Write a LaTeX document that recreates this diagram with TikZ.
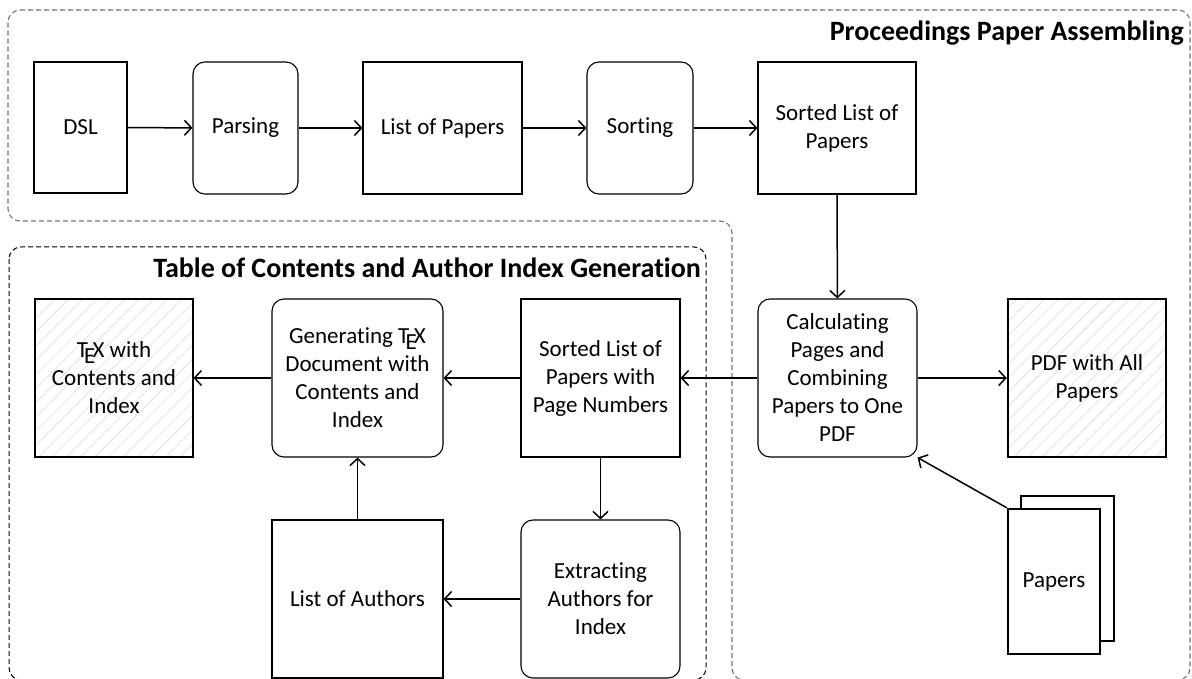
\documentclass[tikz,border=0pt]{standalone}
\usepackage{fontspec}
\setmainfont{Carlito}[Ligatures=NoCommon]
\usetikzlibrary{arrows.meta,patterns.meta}

\tikzset{
  base/.style={draw=black, line width=1.1pt, inner sep=0pt, align=center,
    font=\fontsize{23}{28}\selectfont},
  databox/.style={base},
  procbox/.style={base, rounded corners=12pt},
  inbox/.style={base, line width=2.4pt},
  outbox/.style={base, line width=2.4pt,
    pattern={Lines[angle=45,distance=10pt,line width=0.9pt]}, pattern color=black!11},
  flow/.style={draw=black, line width=1.5pt, -{Straight Barb[length=7pt,width=15pt,line width=1.5pt]}},
  region/.style={dashed, rounded corners=12pt},
  regiontitle/.style={anchor=east, inner sep=0pt, font=\fontsize{28}{32}\selectfont\bfseries},
}

\begin{document}
\begin{tikzpicture}[x=1pt,y=-1pt]
\useasboundingbox (0,0) rectangle (1192,679);
\clip (0,0) rectangle (1192,679);

% group outlines
\draw[region, draw=black!55, line width=1.1pt, dash pattern=on 5pt off 3pt]
  (8,10) -- (1190,10) -- (1190,680) -- (732,680) -- (732,221) -- (8,221) -- cycle;
\draw[region, draw=black, line width=1pt, dash pattern=on 5pt off 3pt]
  (9,247) rectangle (706,680);
\node[regiontitle] (tProc) at (1184,33) {Proceedings Paper Assembling};
\node[regiontitle] (tToc) at (701,268) {Table of Contents and Author Index Generation};

% first row
\node[inbox, minimum width=93pt, minimum height=131pt] (dsl) at (80.5,127.5) {DSL};
\node[procbox, minimum width=105pt, minimum height=132pt] (parse) at (245.5,128) {Parsing};
\node[databox, minimum width=159pt, minimum height=132pt] (list) at (442.5,128) {List of Papers};
\node[procbox, minimum width=106pt, minimum height=132pt] (sort) at (640,128) {Sorting};
\node[databox, minimum width=158pt, minimum height=132pt] (sorted) at (837,128) {Sorted List of\\Papers};

% second row
\node[outbox, minimum width=158pt, minimum height=158pt] (tex) at (114,378) {\TeX\ with\\Contents and\\Index};
\node[procbox, minimum width=171pt, minimum height=158pt] (gen) at (357.5,378) {Generating \TeX\\Document with\\Contents and\\Index};
\node[databox, minimum width=159pt, minimum height=158pt] (pages) at (600.5,378) {Sorted List of\\Papers with\\Page Numbers};
\node[procbox, minimum width=159pt, minimum height=158pt] (calc) at (837.5,378) {Calculating\\Pages and\\Combining\\Papers to One\\PDF};
\node[outbox, minimum width=158pt, minimum height=158pt] (pdf) at (1087,378) {PDF with All\\Papers};

% third row
\node[databox, minimum width=171pt, minimum height=158pt] (authors) at (357.5,599) {List of Authors};
\node[procbox, minimum width=159pt, minimum height=158pt] (extract) at (600.5,599) {Extracting\\Authors for\\Index};

% stack of input papers
\node[inbox, fill=white, minimum width=93pt, minimum height=145pt] (paperB) at (1067.5,568.5) {};
\node[inbox, fill=white, minimum width=92pt, minimum height=145pt] (papers) at (1054,581.5) {Papers};

% connectors
\draw[flow] (dsl) -- (parse);
\draw[flow] (parse) -- (list);
\draw[flow] (list) -- (sort);
\draw[flow] (sort) -- (sorted);
\draw[flow] (sorted) -- (calc);
\draw[flow] (calc) -- (pdf);
\draw[flow] (calc) -- (pages);
\draw[flow] (pages) -- (gen);
\draw[flow] (gen) -- (tex);
\draw[flow] (pages) -- (extract);
\draw[flow] (extract) -- (authors);
\draw[flow] (authors) -- (gen);
\draw[flow] (papers.north west) -- (calc.south east);
\end{tikzpicture}
\end{document}
